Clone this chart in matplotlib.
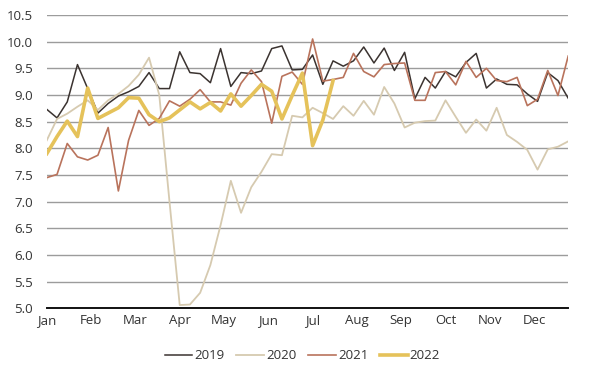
import numpy as np
import matplotlib.pyplot as plt

plt.rcParams['font.family'] = ['Open Sans', 'DejaVu Sans']

months = ['Jan', 'Feb', 'Mar', 'Apr', 'May', 'Jun',
          'Jul', 'Aug', 'Sep', 'Oct', 'Nov', 'Dec']

# weekly values (52 weeks)
y2019 = [8.73, 8.57, 8.87, 9.57, 9.12, 8.66, 8.84, 8.98, 9.06, 9.16, 9.42, 9.12, 9.12,
         9.81, 9.42, 9.40, 9.23, 9.87, 9.16, 9.42, 9.40, 9.45, 9.87, 9.92, 9.47, 9.48,
         9.75, 9.20, 9.64, 9.54, 9.64, 9.90, 9.60, 9.88, 9.46, 9.80, 8.93, 9.33, 9.13,
         9.44, 9.34, 9.61, 9.78, 9.13, 9.30, 9.20, 9.19, 9.02, 8.88, 9.42, 9.27, 8.94]
y2020 = [8.15, 8.55, 8.65, 8.78, 8.90, 8.72, 8.90, 9.02, 9.17, 9.38, 9.70, 9.00, 7.00,
         5.06, 5.07, 5.29, 5.81, 6.56, 7.39, 6.79, 7.27, 7.56, 7.89, 7.87, 8.61, 8.58,
         8.76, 8.66, 8.55, 8.79, 8.61, 8.89, 8.63, 9.15, 8.84, 8.39, 8.48, 8.51, 8.52,
         8.90, 8.59, 8.29, 8.54, 8.33, 8.76, 8.25, 8.12, 7.97, 7.60, 7.98, 8.03, 8.13]
y2021 = [7.45, 7.51, 8.09, 7.84, 7.78, 7.87, 8.39, 7.20, 8.15, 8.71, 8.43, 8.56, 8.89,
         8.79, 8.92, 9.10, 8.87, 8.87, 8.81, 9.22, 9.47, 9.25, 8.47, 9.35, 9.43, 9.20,
         10.05, 9.26, 9.29, 9.33, 9.78, 9.44, 9.34, 9.57, 9.59, 9.60, 8.90, 8.90, 9.42,
         9.44, 9.19, 9.63, 9.33, 9.50, 9.27, 9.25, 9.33, 8.80, 8.92, 9.46, 8.99, 9.73]
y2022 = [7.90, 8.22, 8.51, 8.22, 9.13, 8.56, 8.66, 8.76, 8.95, 8.94, 8.63, 8.50, 8.57,
         8.72, 8.87, 8.74, 8.86, 8.70, 9.02, 8.79, 8.99, 9.20, 9.07, 8.55, 8.99, 9.41,
         8.05, 8.53, 9.27]

fig = plt.figure(figsize=(6, 3.75), dpi=100)
ax = fig.add_axes([0.078, 0.178, 0.869, 0.782])

ax.plot(np.arange(len(y2019)), y2019, color='#3b3330', lw=1.1, label='2019')
ax.plot(np.arange(len(y2020)), y2020, color='#d6cab0', lw=1.3, label='2020')
ax.plot(np.arange(len(y2021)), y2021, color='#b9735c', lw=1.2, label='2021')
ax.plot(np.arange(len(y2022)), y2022, color='#e5c25a', lw=2.6, label='2022')

ax.set_xlim(0, 51)
ax.set_ylim(5.0, 10.5)
ax.set_yticks(np.arange(5.0, 10.51, 0.5))
ax.set_yticklabels([f'{v:.1f}' for v in np.arange(5.0, 10.51, 0.5)])
ax.set_xticks([i * 52 / 12 for i in range(12)])
ax.set_xticklabels(months)

ax.grid(axis='y', color='#9c9c9c', lw=1.0)
ax.set_axisbelow(True)
for s in ['top', 'right', 'left']:
    ax.spines[s].set_visible(False)
ax.spines['bottom'].set_color('#111111')
ax.spines['bottom'].set_linewidth(1.4)
ax.tick_params(length=0, labelsize=9.5, labelcolor='#333333', pad=4)
ax.tick_params(axis='y', pad=10)

ax.legend(loc='upper center', bbox_to_anchor=(0.49, -0.1), ncol=4, frameon=False,
          fontsize=9.5, handlelength=2.1, columnspacing=0.9, handletextpad=0.15,
          labelcolor='#333333')

fig.savefig('out.png', dpi=100)
